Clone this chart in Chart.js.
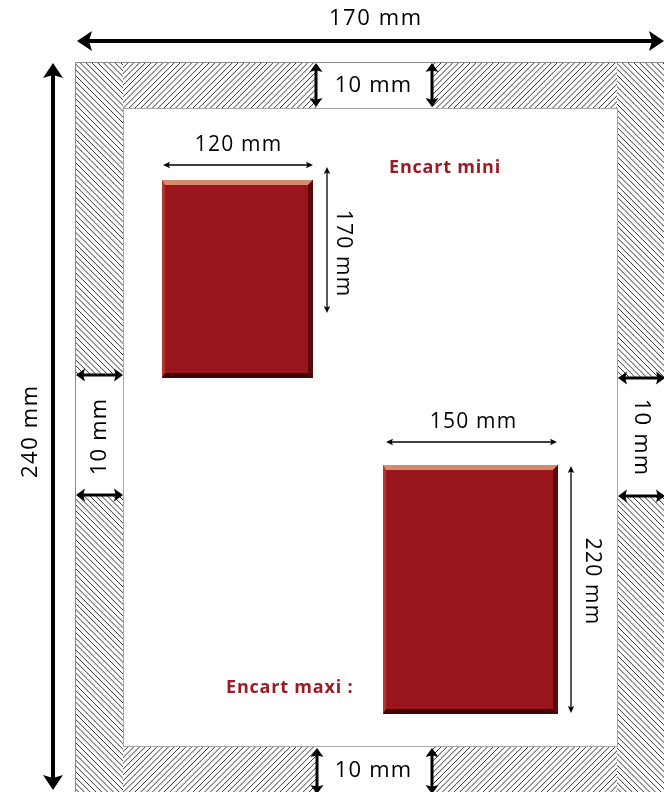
<!DOCTYPE html>
<html>
<head>
<meta charset="utf-8">
<script src="https://cdn.jsdelivr.net/npm/chart.js@4.4.1/dist/chart.umd.min.js"></script>
<style>
  html, body { margin: 0; padding: 0; background: #fff; }
  #schema { display: block; }
</style>
</head>
<body>
<canvas id="schema" width="664" height="792"></canvas>
<script>
// Cotes du document (mm)
var pageSize = [170, 240];
var margeMm = 10;
var encartMini = [120, 170];
var encartMaxi = [150, 220];
var encartNoms = ['Encart mini', 'Encart maxi :'];

function cote(v) { return v + ' mm'; }

// Mise en page du schéma, en unités des axes (0..664 / 0..792)
var pageBox = [75, 62, 670, 800];
var innerBox = [123, 108, 617, 746];
var gapX = [316, 432];
var gapLeft = [375, 495];
var gapRight = [378, 496];
var encartBoxes = [[162, 180, 313, 378], [383, 465, 558, 714]];

var police = '"Open Sans", "Noto Sans", sans-serif';
var rouge = '#9b151c';
var texteRouge = '#9b1b23';

function hatch(ctx, x0, y0, x1, y1, dir) {
  ctx.save();
  ctx.beginPath();
  ctx.rect(x0, y0, x1 - x0, y1 - y0);
  ctx.clip();
  ctx.strokeStyle = '#333';
  ctx.lineWidth = 1;
  ctx.beginPath();
  var h = y1 - y0, step = 5.8;
  for (var x = x0 - h; x < x1 + h; x += step) {
    if (dir > 0) { ctx.moveTo(x, y1); ctx.lineTo(x + h, y0); }
    else { ctx.moveTo(x, y0); ctx.lineTo(x + h, y1); }
  }
  ctx.stroke();
  ctx.restore();
}

function poly(ctx, color, pts) {
  ctx.fillStyle = color;
  ctx.beginPath();
  ctx.moveTo(pts[0][0], pts[0][1]);
  for (var i = 1; i < pts.length; i++) ctx.lineTo(pts[i][0], pts[i][1]);
  ctx.closePath();
  ctx.fill();
}

function encart(ctx, x0, y0, x1, y1) {
  var t = 5, l = 3, r = 5, b = 5;
  ctx.fillStyle = rouge;
  ctx.fillRect(x0, y0, x1 - x0, y1 - y0);
  poly(ctx, '#b0392f', [[x0, y0], [x0 + l, y0 + t], [x0 + l, y1 - b], [x0, y1]]);
  poly(ctx, '#d68a6e', [[x0, y0], [x1, y0], [x1 - r, y0 + t], [x0 + l, y0 + t]]);
  poly(ctx, '#5a0a0c', [[x1, y0], [x1, y1], [x1 - r, y1 - b], [x1 - r, y0 + t]]);
  poly(ctx, '#3e0608', [[x0, y1], [x1, y1], [x1 - r, y1 - b], [x0 + l, y1 - b]]);
}

function fleche(ctx, x0, y0, x1, y1, lw, hl, hw) {
  var a = Math.atan2(y1 - y0, x1 - x0), len = Math.hypot(x1 - x0, y1 - y0);
  ctx.save();
  ctx.translate(x0, y0);
  ctx.rotate(a);
  ctx.fillStyle = ctx.strokeStyle = '#000';
  ctx.lineWidth = lw;
  ctx.beginPath();
  ctx.moveTo(hl * 0.7, 0);
  ctx.lineTo(len - hl * 0.7, 0);
  ctx.stroke();
  ctx.beginPath();
  ctx.moveTo(0, 0); ctx.lineTo(hl, -hw); ctx.lineTo(hl * 0.8, 0); ctx.lineTo(hl, hw);
  ctx.closePath(); ctx.fill();
  ctx.beginPath();
  ctx.moveTo(len, 0); ctx.lineTo(len - hl, -hw); ctx.lineTo(len - hl * 0.8, 0); ctx.lineTo(len - hl, hw);
  ctx.closePath(); ctx.fill();
  ctx.restore();
}

function texte(ctx, str, x, y, rot, font, spacing, color, align) {
  ctx.save();
  ctx.translate(x, y);
  ctx.rotate(rot * Math.PI / 180);
  ctx.font = font;
  ctx.letterSpacing = spacing + 'px';
  ctx.fillStyle = color || '#000';
  ctx.textAlign = align || 'center';
  ctx.textBaseline = 'middle';
  ctx.fillText(str, align === 'left' ? 0 : spacing / 2, 0);
  ctx.restore();
}

var schemaPlugin = {
  id: 'schema',
  afterDraw: function(chart) {
    var ctx = chart.ctx, sx = chart.scales.x, sy = chart.scales.y;
    function X(v) { return sx.getPixelForValue(v); }
    function Y(v) { return sy.getPixelForValue(v); }
    var P = pageBox.map(function(v, i) { return i % 2 ? Y(v) : X(v); });
    var I = innerBox.map(function(v, i) { return i % 2 ? Y(v) : X(v); });

    // marges hachurées
    hatch(ctx, P[0], P[1], I[0], P[3], -1);
    hatch(ctx, I[2], P[1], P[2], P[3], -1);
    hatch(ctx, I[0], P[1], I[2], I[1], 1);
    hatch(ctx, I[0], I[3], I[2], P[3], 1);

    // zones blanches des cotes de marge
    ctx.fillStyle = '#fff';
    ctx.fillRect(X(gapX[0]), P[1], X(gapX[1]) - X(gapX[0]), I[1] - P[1]);
    ctx.fillRect(X(gapX[0]), I[3], X(gapX[1]) - X(gapX[0]), P[3] - I[3]);
    ctx.fillRect(P[0], Y(gapLeft[0]), I[0] - P[0], Y(gapLeft[1]) - Y(gapLeft[0]));
    ctx.fillRect(I[2], Y(gapRight[0]), P[2] - I[2], Y(gapRight[1]) - Y(gapRight[0]));

    // contours
    ctx.strokeStyle = '#8a8a8a';
    ctx.lineWidth = 1;
    ctx.strokeRect(P[0] + 0.5, P[1] + 0.5, P[2] - P[0], P[3] - P[1]);
    ctx.strokeStyle = '#a8a8a8';
    ctx.strokeRect(I[0] + 0.5, I[1] + 0.5, I[2] - I[0], I[3] - I[1]);

    // encarts
    encartBoxes.forEach(function(b) { encart(ctx, X(b[0]), Y(b[1]), X(b[2]), Y(b[3])); });

    // flèches de cotes
    fleche(ctx, X(77), Y(41), X(664), Y(41), 4, 15, 10);
    fleche(ctx, X(53), Y(63), X(53), Y(790), 4, 15, 10);
    [[gapX[0], 63, gapX[0], 107], [gapX[1], 63, gapX[1], 107],
     [gapX[0] + 1, 748, gapX[0] + 1, 794], [gapX[1], 748, gapX[1], 794],
     [76, gapLeft[0], 123, gapLeft[0]], [76, gapLeft[1], 123, gapLeft[1]],
     [618, gapRight[0], 665, gapRight[0]], [618, gapRight[1], 665, gapRight[1]]
    ].forEach(function(a) { fleche(ctx, X(a[0]), Y(a[1]), X(a[2]), Y(a[3]), 3, 9, 6.5); });
    [[163, 165, 313, 165], [327, 167, 327, 313], [386, 442, 557, 442], [571, 466, 571, 713]]
      .forEach(function(a) { fleche(ctx, X(a[0]), Y(a[1]), X(a[2]), Y(a[3]), 1.3, 7, 3.2); });

    // textes
    var f = '22px ' + police, fs = '21px ' + police;
    texte(ctx, cote(pageSize[0]), X(375), Y(19), 0, f, 1.6);
    texte(ctx, cote(pageSize[1]), X(31), Y(432), -90, f, 1.6);
    texte(ctx, cote(margeMm), X(373), Y(86), 0, f, 1.2);
    texte(ctx, cote(margeMm), X(373), Y(771), 0, f, 1.2);
    texte(ctx, cote(margeMm), X(100), Y(437), -90, f, 1.2);
    texte(ctx, cote(margeMm), X(641), Y(437), 90, f, 1.2);
    texte(ctx, cote(encartMini[0]), X(238), Y(145), 0, fs, 1.2);
    texte(ctx, cote(encartMini[1]), X(343), Y(253), 90, fs, 1.2);
    texte(ctx, cote(encartMaxi[0]), X(473), Y(422), 0, fs, 1.2);
    texte(ctx, cote(encartMaxi[1]), X(592), Y(581), 90, fs, 1.2);
    var fb = 'bold 18px ' + police;
    texte(ctx, encartNoms[0], X(389), Y(168), 0, fb, 0.8, texteRouge, 'left');
    texte(ctx, encartNoms[1], X(226), Y(688), 0, fb, 0.8, texteRouge, 'left');
  }
};

new Chart(document.getElementById('schema').getContext('2d'), {
  type: 'scatter',
  data: { datasets: [{ data: [], pointRadius: 0 }] },
  options: {
    responsive: false,
    animation: false,
    layout: { padding: 0 },
    scales: {
      x: { type: 'linear', min: 0, max: 664, display: false },
      y: { type: 'linear', min: 0, max: 792, reverse: true, display: false }
    },
    plugins: { legend: { display: false }, tooltip: { enabled: false } }
  },
  plugins: [schemaPlugin]
});
</script>
</body>
</html>
